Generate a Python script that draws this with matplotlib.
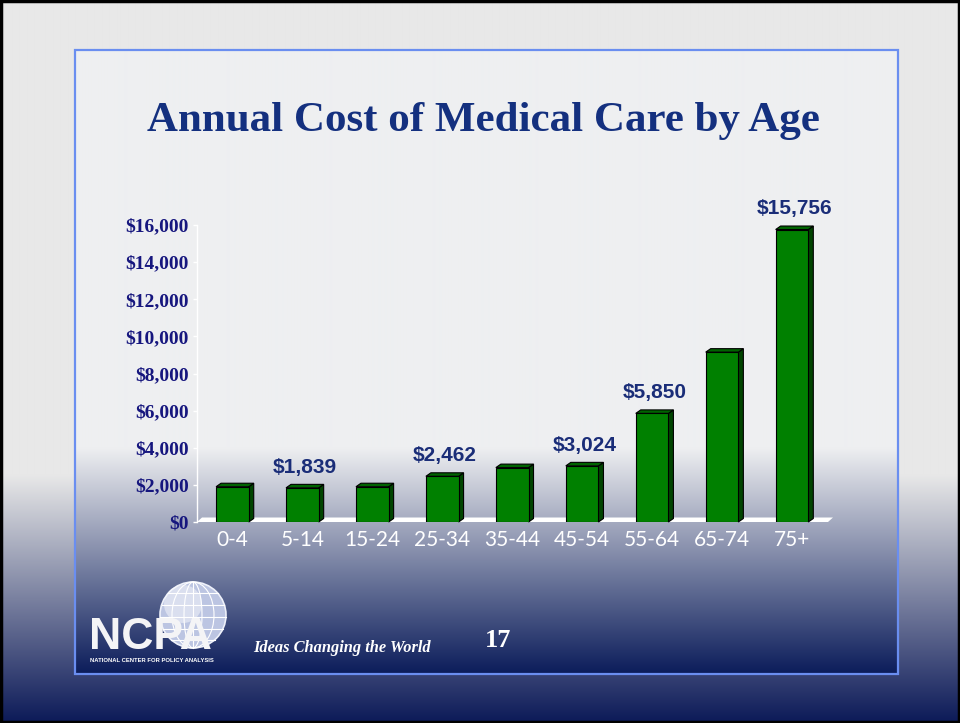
import numpy as np
import matplotlib
matplotlib.use("Agg")
import matplotlib.pyplot as plt
from matplotlib.patches import Rectangle, Polygon, Circle, Ellipse
from matplotlib.ticker import FuncFormatter
from matplotlib.colors import to_rgb

# ---------------- data ----------------
age_groups = ["0-4", "5-14", "15-24", "25-34", "35-44", "45-54", "55-64", "65-74", "75+"]
annual_cost = [1900, 1839, 1900, 2462, 2930, 3024, 5850, 9150, 15756]
labeled_groups = ["5-14", "25-34", "45-54", "55-64", "75+"]
y_ticks = [0, 2000, 4000, 6000, 8000, 10000, 12000, 14000, 16000]
title = "Annual Cost of Medical Care by Age"
tagline = "Ideas Changing the World"
page_number = "17"
logo_text = "NCPA"
logo_subtitle = "NATIONAL CENTER FOR POLICY ANALYSIS"

# ---------------- figure ----------------
W, H = 960, 723
fig = plt.figure(figsize=(W / 100, H / 100), dpi=100)

bg = fig.add_axes([0, 0, 1, 1])
bg.axis("off")


def vgrad(stops, y0, y1, width=4):
    ys = np.arange(y0, y1) + 0.5
    sy = [s[0] for s in stops]
    cols = np.array([to_rgb(s[1]) for s in stops])
    img = np.zeros((len(ys), width, 3))
    for c in range(3):
        img[:, :, c] = np.interp(ys, sy, cols[:, c])[:, None]
    return img


outer = vgrad([(0, "#e8e8e8"), (475, "#e8e8e8"), (722, "#0c1a58")], 0, H)
bg.imshow(outer, extent=(0, W, H, 0), aspect="auto", interpolation="bilinear", zorder=0)
px0, px1, py0, py1 = 75, 898, 50, 674
inner = vgrad([(py0, "#eeeff1"), (448, "#eeeff1"), (py1, "#0b1c5a")], py0, py1)
bg.imshow(inner, extent=(px0, px1, py1, py0), aspect="auto", interpolation="bilinear", zorder=1)
bg.add_patch(Rectangle((px0, py0), px1 - px0, py1 - py0, fill=False, ec="#6a8ef0", lw=1.6, zorder=2))
bg.add_patch(Rectangle((1, 1), W - 2, H - 2, fill=False, ec="black", lw=2.5, zorder=10))
bg.set_xlim(0, W)
bg.set_ylim(H, 0)

# title
fig.text(483 / W, 1 - 131 / H, title, ha="center", va="baseline", fontsize=31,
         fontweight="bold", family="Liberation Serif", color="#14307f")

# footer
bg.text(253, 652.5, tagline, ha="left", va="baseline", fontsize=11.8, fontstyle="italic",
        fontweight="bold", family="Liberation Serif", color="white", zorder=5)
bg.text(498, 647, page_number, ha="center", va="baseline", fontsize=19,
        fontweight="bold", family="Liberation Serif", color="white", zorder=5)

# logo: globe + letters
gx, gy, gr = 193, 615, 33
bg.add_patch(Circle((gx, gy), gr, fc="#bcc5e2", ec="#eef1fa", lw=1.2, zorder=3))
bg.add_patch(Circle((gx - 10, gy - 11), 19, fc="white", ec="none", alpha=0.45, zorder=3))
for w in [18, 42]:
    bg.add_patch(Ellipse((gx, gy), w, 2 * gr, fill=False, ec="white", lw=0.8, zorder=3))
bg.plot([gx, gx], [gy - gr, gy + gr], color="white", lw=0.8, zorder=3)
for off in [-22, -10, 2, 14, 25]:
    hw = np.sqrt(gr ** 2 - off ** 2)
    bg.plot([gx - hw, gx + hw], [gy + off, gy + off], color="white", lw=0.8, zorder=3)
bg.text(89, 649, logo_text, ha="left", va="baseline", fontsize=32, fontweight="bold",
        family="Liberation Sans", color="#f4f4f6", zorder=4)
bg.text(152, 661, logo_subtitle, ha="center", va="center", fontsize=4.2, fontweight="bold",
        family="Liberation Sans", color="white", zorder=4)

# ---------------- chart axes ----------------
ax_l, ax_r, ax_t, ax_b = 197, 828, 225, 522
ax = fig.add_axes([ax_l / W, 1 - ax_b / H, (ax_r - ax_l) / W, (ax_b - ax_t) / H])
ax.patch.set_alpha(0)
x = np.arange(len(age_groups))
xlo, xhi = -0.506, 8.515
ax.set_xlim(xlo, xhi)
ax.set_ylim(0, 16000)

ppx = (ax_r - ax_l) / (xhi - xlo)
ppy = (ax_b - ax_t) / 16000
dx, dy = 5 / ppx, 3.5 / ppy

# floor
fdx, fdy = 5 / ppx, 4.5 / ppy
ax.add_patch(Polygon([(xlo, 0), (xhi, 0), (xhi + fdx, fdy), (xlo + fdx, fdy)],
                     closed=True, fc="white", ec="none", zorder=2, clip_on=False))

bars = ax.bar(x, annual_cost, width=0.467, color="#008000", edgecolor="black",
              linewidth=0.8, zorder=4)
for rect in bars:
    x0, w, h = rect.get_x(), rect.get_width(), rect.get_height()
    ax.add_patch(Polygon([(x0 + w, 0), (x0 + w + dx, dy), (x0 + w + dx, h + dy), (x0 + w, h)],
                         closed=True, fc="#004400", ec="black", lw=0.8, zorder=3.5, clip_on=False))
    ax.add_patch(Polygon([(x0, h), (x0 + dx, h + dy), (x0 + w + dx, h + dy), (x0 + w, h)],
                         closed=True, fc="#006400", ec="black", lw=0.8, zorder=3.5, clip_on=False))

for name in labeled_groups:
    i = age_groups.index(name)
    ax.annotate(f"${annual_cost[i]:,}", xy=(x[i] + dx / 2, annual_cost[i]), xytext=(0, 11),
                textcoords="offset points", ha="center", va="baseline", fontsize=15,
                fontweight="bold", family="Liberation Sans", color="#1a2d78", zorder=6)

for s in ["top", "right", "bottom"]:
    ax.spines[s].set_visible(False)
ax.spines["left"].set_color("white")
ax.spines["left"].set_linewidth(1)

ax.set_yticks(y_ticks)
ax.yaxis.set_major_formatter(FuncFormatter(lambda v, p: f"${v:,.0f}"))
ax.tick_params(axis="y", color="white", labelcolor="#16167e", length=3, width=1, pad=3,
               labelsize=14)
for lab in ax.get_yticklabels():
    lab.set_fontfamily("Liberation Serif")
    lab.set_fontweight("bold")

ax.set_xticks(x)
ax.set_xticklabels(age_groups)
ax.tick_params(axis="x", length=0, labelcolor="white", labelsize=15, pad=6)
for lab in ax.get_xticklabels():
    lab.set_fontfamily("Lato")

fig.savefig("out.png", dpi=100)
